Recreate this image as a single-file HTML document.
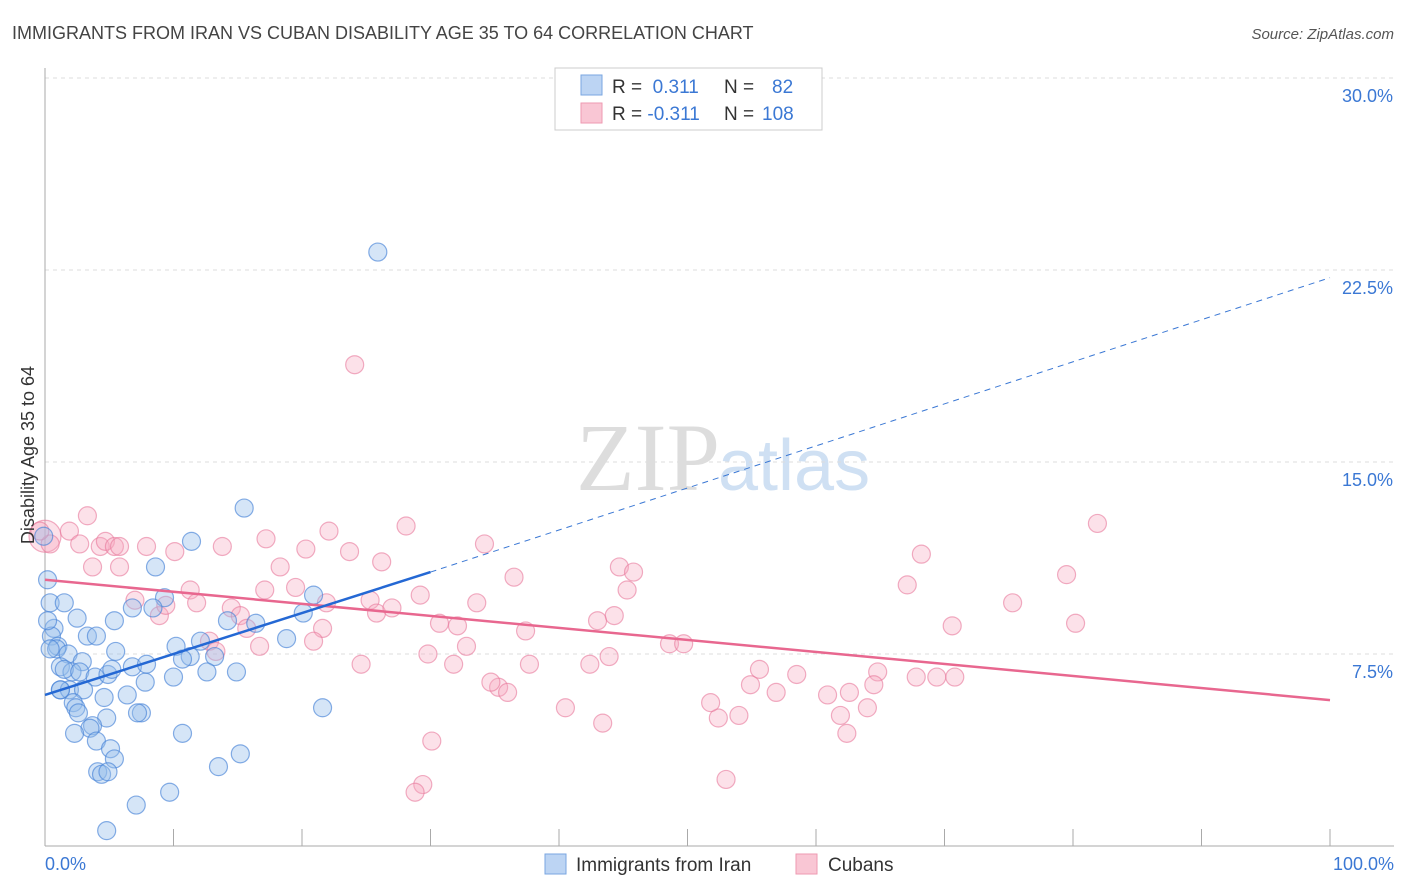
<!DOCTYPE html>
<html><head><meta charset="utf-8"><style>
body{margin:0;background:#fff;font-family:"Liberation Sans",sans-serif}
svg{display:block}
</style></head><body>
<svg id="chart" width="1406" height="892" xmlns="http://www.w3.org/2000/svg">
<text x="12" y="39" font-size="18" fill="#444">IMMIGRANTS FROM IRAN VS CUBAN DISABILITY AGE 35 TO 64 CORRELATION CHART</text>
<text x="1394" y="39" font-size="15" fill="#555" font-style="italic" text-anchor="end">Source: ZipAtlas.com</text>
<text x="720" y="490" font-size="96" fill="#ddd" text-anchor="end" font-family="Liberation Serif">ZIP</text>
<text x="718" y="490" font-size="72" fill="#cfe0f3">atlas</text>
<g id="grid"></g>
<g id="axes"></g>
<g id="pts"></g>
<g id="lines"></g>
<text transform="translate(34,455) rotate(-90)" font-size="18" fill="#333" text-anchor="middle">Disability Age 35 to 64</text>
<text x="45" y="870" font-size="18" fill="#3b78d4">0.0%</text>
<text x="1394" y="870" font-size="18" fill="#3b78d4" text-anchor="end">100.0%</text>
<g>
<rect x="555" y="68" width="267" height="62" fill="#fff" stroke="#ccc"/>
<rect x="581" y="75" width="21" height="20" fill="#bcd4f3" stroke="#7aa6e0"/>
<rect x="581" y="103" width="21" height="20" fill="#f9c6d4" stroke="#ee9ab2"/>
<text x="612" y="93" font-size="19" fill="#333">R = <tspan fill="#3b78d4">&#160;0.311</tspan><tspan x="724">N = </tspan><tspan x="772" fill="#3b78d4">82</tspan></text>
<text x="612" y="120" font-size="19" fill="#333">R = <tspan fill="#3b78d4">-0.311</tspan><tspan x="724">N = </tspan><tspan x="762" fill="#3b78d4">108</tspan></text>
</g>
<g>
<rect x="545" y="854" width="21" height="20" fill="#bcd4f3" stroke="#7aa6e0"/>
<text x="576" y="871" font-size="19" fill="#333">Immigrants from Iran</text>
<rect x="796" y="854" width="21" height="20" fill="#f9c6d4" stroke="#ee9ab2"/>
<text x="828" y="871" font-size="19" fill="#333">Cubans</text>
</g>
</svg>
<script>
const yTicks=[7.5,15,22.5,30];
const yTickLabels=["7.5%","15.0%","22.5%","30.0%"];
const xTicks=[10,20,30,40,50,60,70,80,90,100];
const iranX=[25.9,15.5,11.4,8.6,0.2,0.4,1.5,2.5,0.7,5.4,9.3,6.8,8.4,14.2,16.4,20.9,20.1,0.5,1.0,3.3,4.0,0.9,1.8,2.9,5.5,10.2,12.1,18.8,11.3,1.2,2.1,1.5,2.7,3.9,4.9,5.2,6.8,7.9,10.7,13.2,7.8,10.0,12.6,14.9,1.2,1.9,3.0,4.6,6.4,2.2,2.4,2.6,7.5,7.2,4.8,21.6,3.7,3.5,2.3,4.0,5.1,5.4,10.7,15.2,13.5,4.1,4.4,4.9,7.1,9.7,4.8,-0.1,0.2,0.4,1.2];
const iranY=[23.2,13.2,11.9,10.9,10.4,9.5,9.5,8.9,8.5,8.8,9.7,9.3,9.3,8.8,8.7,9.8,9.1,8.2,7.8,8.2,8.2,7.7,7.5,7.2,7.6,7.8,8.0,8.1,7.4,7.0,6.8,6.9,6.8,6.6,6.7,6.9,7.0,7.1,7.3,7.4,6.4,6.6,6.8,6.8,6.1,6.1,6.1,5.8,5.9,5.6,5.4,5.2,5.2,5.2,5.0,5.4,4.7,4.6,4.4,4.1,3.8,3.4,4.4,3.6,3.1,2.9,2.8,2.9,1.6,2.1,0.6,12.1,8.8,7.7,6.1];
const cubaX=[24.1,81.9,28.1,22.1,3.3,0.0,0.4,1.9,2.7,4.3,4.7,5.4,5.8,7.9,10.1,13.8,17.2,20.3,23.7,26.2,34.2,3.7,5.8,18.3,36.5,44.7,45.8,45.3,68.2,67.1,79.5,75.3,80.2,70.6,7.0,8.9,11.3,11.8,9.4,14.5,15.2,15.7,19.5,21.9,17.1,25.3,25.8,27.0,29.2,33.6,30.7,32.1,43.0,44.3,37.4,21.6,12.8,13.3,16.7,20.9,32.8,29.8,31.8,24.6,37.7,42.4,43.9,48.6,49.7,55.6,58.5,64.8,67.8,69.4,70.8,64.5,54.9,56.9,60.9,62.6,64.0,35.3,34.7,36.0,40.5,43.4,54.0,52.4,51.8,61.9,62.4,30.1,29.4,28.8,53.0,-0.4];
const cubaY=[18.8,12.6,12.5,12.3,12.9,12.1,11.8,12.3,11.8,11.7,11.9,11.7,11.7,11.7,11.5,11.7,12.0,11.6,11.5,11.1,11.8,10.9,10.9,10.9,10.5,10.9,10.7,10.0,11.4,10.2,10.6,9.5,8.7,8.6,9.6,9.0,10.0,9.5,9.4,9.3,9.0,8.5,10.1,9.5,10.0,9.6,9.1,9.3,9.8,9.5,8.7,8.6,8.8,9.0,8.4,8.5,8.0,7.6,7.8,8.0,7.8,7.5,7.1,7.1,7.1,7.1,7.4,7.9,7.9,6.9,6.7,6.8,6.6,6.6,6.6,6.3,6.3,6.0,5.9,6.0,5.4,6.2,6.4,6.0,5.4,4.8,5.1,5.0,5.6,5.1,4.4,4.1,2.4,2.1,2.6,12.3];
const cubaBig=[false,false,false,false,false,true];
const iranTrend=[[0,5.9],[30,10.7]];
const iranTrendExt=[[30,10.7],[100,22.2]];
const cubaTrend=[[0,10.4],[100,5.7]];
const X=v=>45+v*12.85, Y=v=>846-v*25.6;
const NS="http://www.w3.org/2000/svg";
function mk(t,a,p){const e=document.createElementNS(NS,t);for(const k in a)e.setAttribute(k,a[k]);p.appendChild(e);return e;}
const grid=document.getElementById('grid'),axes=document.getElementById('axes'),pts=document.getElementById('pts'),lines=document.getElementById('lines');
yTicks.forEach((t,i)=>{
 const g=mk('line',{x1:45,x2:1394,y1:Y(t),y2:Y(t),stroke:'#ddd','stroke-dasharray':'4,4'},grid);
 
 
 const l=mk('text',{x:1393,y:Y(t)+24,'font-size':18,fill:'#3b78d4','text-anchor':'end'},grid);
 l.textContent=yTickLabels[i];
 
 
});
const ya=mk('line',{x1:45,x2:45,y1:68,y2:846,stroke:'#aaa'},axes);


const xa=mk('line',{x1:45,x2:1394,y1:846,y2:846,stroke:'#aaa'},axes);


xTicks.forEach(t=>{
 const k=mk('line',{x1:X(t),x2:X(t),y1:829,y2:846,stroke:'#aaa'},axes);
 
 
});
cubaX.forEach((x,i)=>{
 const c=mk('circle',{cx:X(x),cy:Y(cubaY[i]),r:cubaBig[i]?16:9,fill:'rgba(246,170,193,0.35)',stroke:'rgba(232,120,155,0.6)','stroke-width':1.2},pts);
 
 
});
iranX.forEach((x,i)=>{
 const c=mk('circle',{cx:X(x),cy:Y(iranY[i]),r:9,fill:'rgba(150,190,236,0.4)',stroke:'rgba(70,130,215,0.65)','stroke-width':1.2},pts);
 
 
});
function ln(d,col,dash,name){const e=mk('line',{x1:X(d[0][0]),y1:Y(d[0][1]),x2:X(d[1][0]),y2:Y(d[1][1]),stroke:col,'stroke-width':dash?1:2.5},lines);if(dash)e.setAttribute('stroke-dasharray','6,5');
 
 }
ln(cubaTrend,'#e8678f',false,'cubans-trend-line');
ln(iranTrendExt,'#3b78d4',true,'iran-trend-extension');
ln(iranTrend,'#2468d4',false,'iran-trend-line');
</script>
</body></html>
